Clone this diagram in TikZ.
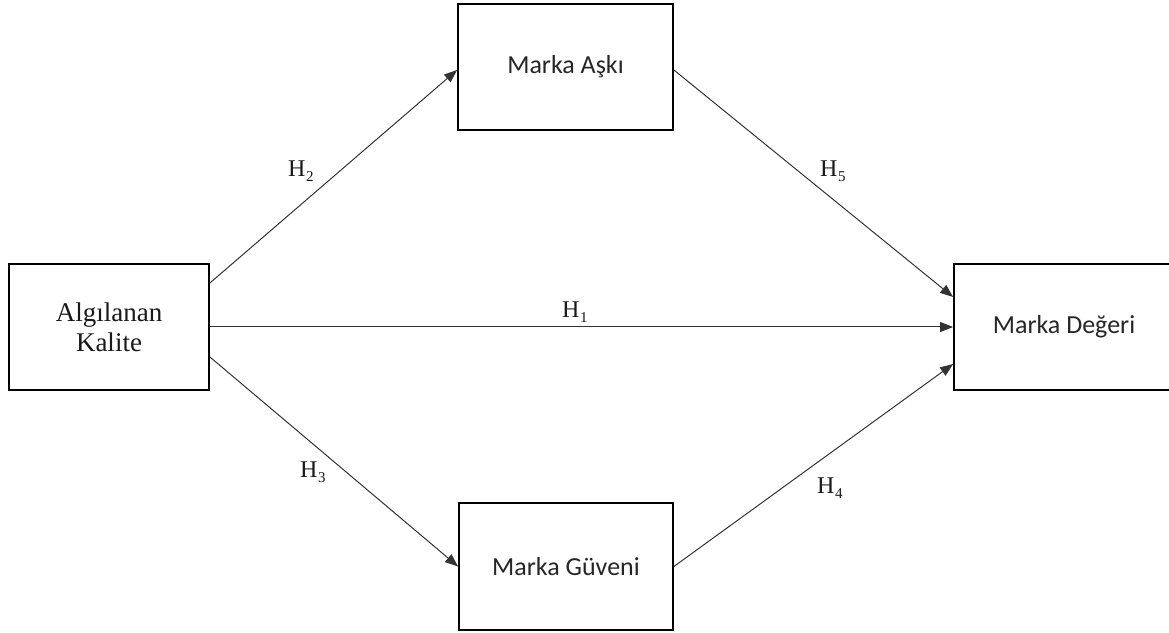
\documentclass[tikz,border=0pt]{standalone}
\usepackage{fontspec}
\setmainfont{Liberation Serif}
\newfontfamily\boxsans{Carlito}
\usetikzlibrary{arrows.meta}
% hypothesis label: H with a lowered index
\newcommand\hlab[1]{H\kern0.5pt{\fontsize{15}{15}\selectfont\raisebox{-5pt}{#1}}}

\begin{document}
\begin{tikzpicture}[x=1pt,y=1pt,
  box/.style={draw=black, line width=1.8pt, inner sep=0pt, minimum height=126pt},
  serifbox/.style={box, font=\fontsize{27}{30}\selectfont, align=center, text=black!90},
  sansbox/.style={box, font=\boxsans\fontsize{26}{30}\selectfont, text=black!85},
  link/.style={draw=black!80, line width=1pt, -{Triangle[length=13pt,width=10pt]}},
  hyp/.style={anchor=base west, inner sep=0pt, text=black!90, font=\fontsize{24}{24}\selectfont}]
\useasboundingbox (0,0) rectangle (1169,632);

% constructs
\node[serifbox, minimum width=200pt] (ak) at (109,305) {Algılanan\\Kalite};
\node[sansbox, minimum width=215pt] (aski) at (565.5,565) {Marka Aşkı};
\node[sansbox, minimum width=214pt, minimum height=127pt] (guv) at (566,65.5) {Marka Güveni};
\node[sansbox, minimum width=220pt] (deg) at (1064,305) {Marka Değeri};

% attachment points on the box edges
\coordinate (akT) at ([yshift=44pt]ak.east);
\coordinate (akB) at ([yshift=-30pt]ak.east);
\coordinate (askiW) at ([yshift=-3pt]aski.west);
\coordinate (askiE) at ([yshift=-3pt]aski.east);
\coordinate (degT) at ([yshift=30pt]deg.west);
\coordinate (degB) at ([yshift=-37pt]deg.west);

% paths
\draw[link] (akT) -- (askiW);
\draw[link] (ak.east) -- (deg.west);
\draw[link] (akB) -- (guv.west);
\draw[link] (askiE) -- (degT);
\draw[link] (guv.east) -- (degB);

% hypothesis labels
\node[hyp] (h1) at (562,314) {\hlab{1}};
\node[hyp] (h2) at (288,455) {\hlab{2}};
\node[hyp] (h3) at (300,154) {\hlab{3}};
\node[hyp] (h4) at (817,139) {\hlab{4}};
\node[hyp] (h5) at (820,455) {\hlab{5}};
\end{tikzpicture}
\end{document}
